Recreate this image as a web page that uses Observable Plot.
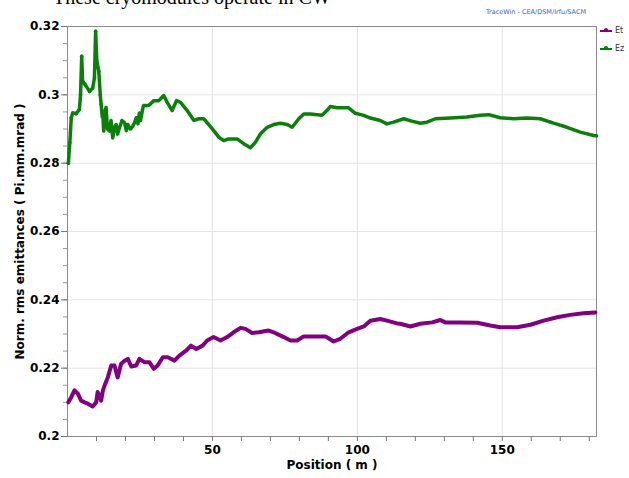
<!DOCTYPE html>
<html>
<head>
<meta charset="utf-8">
<script src="https://cdn.jsdelivr.net/npm/d3@7"></script>
<script src="https://cdn.jsdelivr.net/npm/@observablehq/plot@0.6"></script>
<style>
  html, body { margin: 0; padding: 0; background: #fff; }
  #wrap { position: relative; width: 629px; height: 478px; overflow: hidden; font-family: "DejaVu Sans", sans-serif; }
  #title { position: absolute; left: 53px; top: -14px; font-family: "Liberation Serif", serif; font-size: 20px; color: #000; white-space: nowrap; }
  #credit { position: absolute; left: 486px; top: 8px; font-size: 6.5px; color: #3a5fcd; white-space: nowrap; }
  .leg { position: absolute; left: 600px; font-size: 8px; color: #333; white-space: nowrap; display: flex; align-items: center; }
  .leg .sw { position: relative; width: 12px; height: 2px; margin-right: 3px; }
  .leg .sw i { position: absolute; left: 4px; top: -1.5px; width: 4px; height: 4px; border-radius: 50%; }
  svg { position: absolute; left: 0; top: 0; }
</style>
</head>
<body>
<div id="wrap">
  <div id="title">These cryomodules operate in CW</div>
  <div id="credit">TraceWin - CEA/DSM/Irfu/SACM</div>
  <div class="leg" style="top:26px"><span class="sw" style="background:#800080"><i style="background:#800080"></i></span>Et</div>
  <div class="leg" style="top:44px"><span class="sw" style="background:#008000"><i style="background:#008000"></i></span>Ez</div>
</div>
<script>
// Ez (green) emittance vs position
const ezPos = [0.3,0.8,1.3,1.8,3.0,4.1,4.5,4.9,5.2,6.1,7.6,8.7,9.3,9.7,10.1,10.8,11.3,11.6,12.0,12.2,12.5,13.0,13.3,13.8,14.5,15.0,15.6,16.2,16.8,17.3,17.9,18.8,19.7,20.3,20.8,21.7,22.5,23.2,23.7,24.3,24.8,25.2,26.0,26.3,28.0,29.8,31.5,33.2,34.4,36.1,37.6,39.0,41.3,43.6,45.3,47.0,49.9,52.2,53.9,55.6,58.5,60.8,63.1,64.8,66.6,68.9,71.1,73.4,75.8,77.5,79.8,81.5,83.8,87.8,89.5,90.7,93.0,97.0,99.3,102.2,104.5,107.9,110.2,112.5,116.0,118.8,121.7,124.0,126.9,132.1,137.8,142.4,145.3,149.3,153.9,158.5,163.1,167.7,172.3,176.9,181.5,182.5];
const ezVal = [0.280,0.286,0.2933,0.2947,0.2945,0.2957,0.300,0.3113,0.304,0.303,0.301,0.302,0.305,0.3186,0.310,0.3069,0.300,0.2972,0.2935,0.2942,0.2894,0.2955,0.2963,0.290,0.2894,0.2925,0.2874,0.2905,0.2913,0.2885,0.2903,0.2925,0.2918,0.2895,0.2913,0.2900,0.2908,0.2920,0.2933,0.2915,0.2947,0.2925,0.2962,0.2969,0.2969,0.2983,0.2983,0.2998,0.2978,0.2954,0.2983,0.2978,0.2954,0.2925,0.2930,0.2930,0.2901,0.2876,0.2866,0.2871,0.2871,0.2857,0.2845,0.2861,0.2886,0.2905,0.2913,0.2917,0.2913,0.2905,0.2930,0.2944,0.2944,0.2940,0.2954,0.2966,0.2962,0.2962,0.2946,0.2940,0.2932,0.2925,0.2915,0.2920,0.2930,0.2923,0.2917,0.2920,0.2930,0.2932,0.2935,0.2940,0.2942,0.2933,0.2930,0.2932,0.2930,0.2917,0.2905,0.2891,0.2881,0.2880];

// Et (purple) emittance vs position
const etPos = [0.3,1.3,2.4,3.6,4.7,5.9,7.0,8.7,9.9,10.4,11.6,12.2,13.0,13.9,15.1,16.2,17.3,18.5,19.7,20.8,22.0,23.7,24.8,26.6,28.3,29.8,31.1,32.9,34.6,36.9,38.6,40.9,42.6,44.4,46.6,48.2,50.4,52.8,55.1,57.3,59.7,61.4,63.7,66.0,69.4,71.1,74.6,76.9,79.2,81.5,84.9,89.0,91.8,94.1,97.0,99.9,102.2,104.5,107.9,110.2,113.7,114.8,118.3,121.7,125.8,128.6,130.3,135.5,141.3,145.9,149.3,155.1,159.7,164.3,168.9,173.4,178.0,182.1];
const etVal = [0.2100,0.2115,0.2135,0.2125,0.2105,0.2100,0.2096,0.2088,0.2100,0.2130,0.2105,0.2134,0.2154,0.2173,0.2208,0.2208,0.2173,0.2213,0.2222,0.2227,0.2205,0.2208,0.2227,0.2217,0.2217,0.2198,0.2208,0.2232,0.2232,0.2222,0.2237,0.2251,0.2266,0.2256,0.2266,0.2281,0.2291,0.2281,0.2291,0.2305,0.2318,0.2315,0.2303,0.2305,0.2310,0.2305,0.2291,0.2281,0.2281,0.2293,0.2293,0.2293,0.2278,0.2286,0.2305,0.2315,0.2322,0.2339,0.2344,0.2339,0.2331,0.2330,0.2322,0.2330,0.2334,0.2341,0.2334,0.2334,0.2333,0.2325,0.2320,0.2320,0.2327,0.2339,0.2349,0.2356,0.2361,0.2363];

const xLabelTicks = [50, 100, 150];
const xMinorTicks = [10,20,30,40,50,60,70,80,90,100,110,120,130,140,150,160,170,180];
const yMajorTicks = [0.2,0.22,0.24,0.26,0.28,0.3,0.32];
const yMinorTicks = d3.range(0.2, 0.3201, 0.005).map(v => +v.toFixed(3));

const ez = ezPos.map((p, i) => ({x: p, y: ezVal[i]}));
const et = etPos.map((p, i) => ({x: p, y: etVal[i]}));

const chart = Plot.plot({
  width: 629,
  height: 478,
  marginLeft: 67,
  marginRight: 33,
  marginTop: 26,
  marginBottom: 42,
  style: {fontFamily: "DejaVu Sans, sans-serif", background: "transparent", overflow: "visible"},
  x: {domain: [0, 182.5]},
  y: {domain: [0.2, 0.32]},
  marks: [
    Plot.gridX(xLabelTicks, {stroke: "#e4e4e4", strokeOpacity: 1}),
    Plot.gridY([0.22,0.24,0.26,0.28,0.3], {stroke: "#e4e4e4", strokeOpacity: 1}),
    Plot.frame({stroke: "#8a8a8a"}),
    Plot.axisX({ticks: xMinorTicks, tickSize: 5, tickFormat: d => xLabelTicks.includes(d) ? String(d) : "", fontWeight: "bold", fontSize: 12, label: null, tickPadding: 4, stroke: "#777", color: "#000"}),
    Plot.axisY({ticks: yMinorTicks, tickSize: 4, tickFormat: () => "", label: null, stroke: "#999"}),
    Plot.axisY({ticks: yMajorTicks, tickSize: 6, tickFormat: d => String(+d.toFixed(2)), fontWeight: "bold", fontSize: 12, label: null, tickPadding: 2, stroke: "#777", color: "#000"}),
    Plot.line(et, {x: "x", y: "y", stroke: "#800080", strokeWidth: 4, strokeLinejoin: "round"}),
    Plot.line(ez, {x: "x", y: "y", stroke: "#0a800a", strokeWidth: 3.5, strokeLinejoin: "round"}),
    Plot.dot(ez.filter(d => d.x < 12), {x: "x", y: "y", r: 1.8, fill: "#0a800a"}),
    Plot.text(["Norm. rms emittances ( Pi.mm.mrad )"], {frameAnchor: "left", textAnchor: "middle", dx: -47, rotate: -90, fontWeight: "bold", fontSize: 12, fill: "#000"}),
    Plot.text(["Position ( m )"], {frameAnchor: "bottom", textAnchor: "middle", dy: 32, fontWeight: "bold", fontSize: 12, fill: "#000"})
  ]
});
document.getElementById("wrap").appendChild(chart);
</script>
</body>
</html>
